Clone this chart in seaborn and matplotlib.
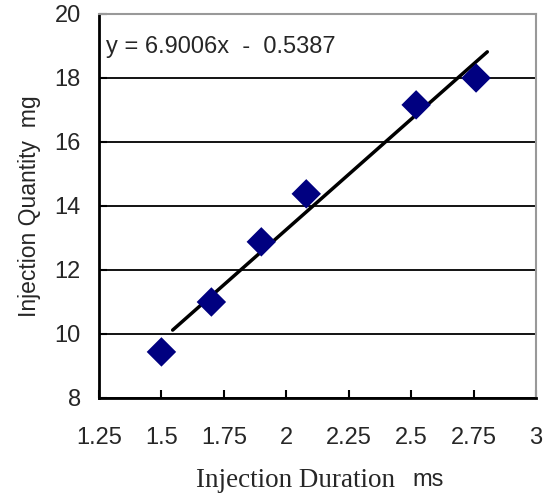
import numpy as np
import pandas as pd
import matplotlib
matplotlib.use("Agg")
import matplotlib.pyplot as plt
import seaborn as sns

# Measured injection duration (ms) vs. injected fuel quantity (mg)
duration = [1.5, 1.7, 1.9, 2.08, 2.52, 2.76]
quantity = [9.44, 11.0, 12.88, 14.38, 17.16, 18.0]

# Linear trendline coefficients
slope = 6.9006
intercept = -0.5387
fit_range = [1.545, 2.805]

x_ticks = [1.25, 1.5, 1.75, 2, 2.25, 2.5, 2.75, 3]
x_tick_labels = ["1.25", "1.5", "1.75", "2", "2.25", "2.5", "2.75", "3"]
y_ticks = [8, 10, 12, 14, 16, 18, 20]

sns.set_style("white")
plt.rcParams["font.family"] = ["Liberation Sans", "DejaVu Sans"]

fig = plt.figure(figsize=(5.55, 4.95), dpi=100)
ax = fig.add_axes([99 / 555, 97 / 495, 437 / 555, 384 / 495])

df = pd.DataFrame({"duration": duration, "quantity": quantity})
fit_x = np.array(fit_range)
fit_df = pd.DataFrame({"x": fit_x, "y": slope * fit_x + intercept})

sns.lineplot(data=fit_df, x="x", y="y", ax=ax, color="black", linewidth=2.5, zorder=3)
sns.scatterplot(data=df, x="duration", y="quantity", ax=ax, marker="D", s=225,
                color="#000080", edgecolor="none", linewidth=0, zorder=4)

ax.set_xlim(1.25, 3)
ax.set_ylim(8, 20)
ax.set_xticks(x_ticks)
ax.set_xticklabels(x_tick_labels)
ax.set_yticks(y_ticks)

ax.yaxis.grid(True, color="black", linewidth=1.3)
ax.xaxis.grid(False)
ax.set_axisbelow(True)

for side in ("left", "bottom"):
    ax.spines[side].set_color("black")
    ax.spines[side].set_linewidth(2)
for side in ("top", "right"):
    ax.spines[side].set_color("#999999")
    ax.spines[side].set_linewidth(1.5)

ax.tick_params(axis="x", direction="in", length=6, width=1.5, color="black",
               labelsize=17, pad=21, bottom=True)
ax.tick_params(axis="y", direction="in", length=6, width=1.5, color="black",
               labelsize=17, pad=13, left=True)

ax.set_ylabel("Injection Quantity  mg", fontsize=16.5, labelpad=10)
ax.set_xlabel("Injection Duration", fontsize=19.5, family="Liberation Serif")
ax.xaxis.set_label_coords(0.449, -0.182)
ax.annotate("ms", xy=(1, 0), xycoords=ax.xaxis.label, xytext=(13, 1),
            textcoords="offset points", ha="left", va="bottom", fontsize=17)

ax.text(0.015, 0.915, f"y = {slope:.4f}x  -  {abs(intercept):.4f}", transform=ax.transAxes,
        fontsize=17, ha="left", va="center")

fig.savefig("out.png", dpi=100)
